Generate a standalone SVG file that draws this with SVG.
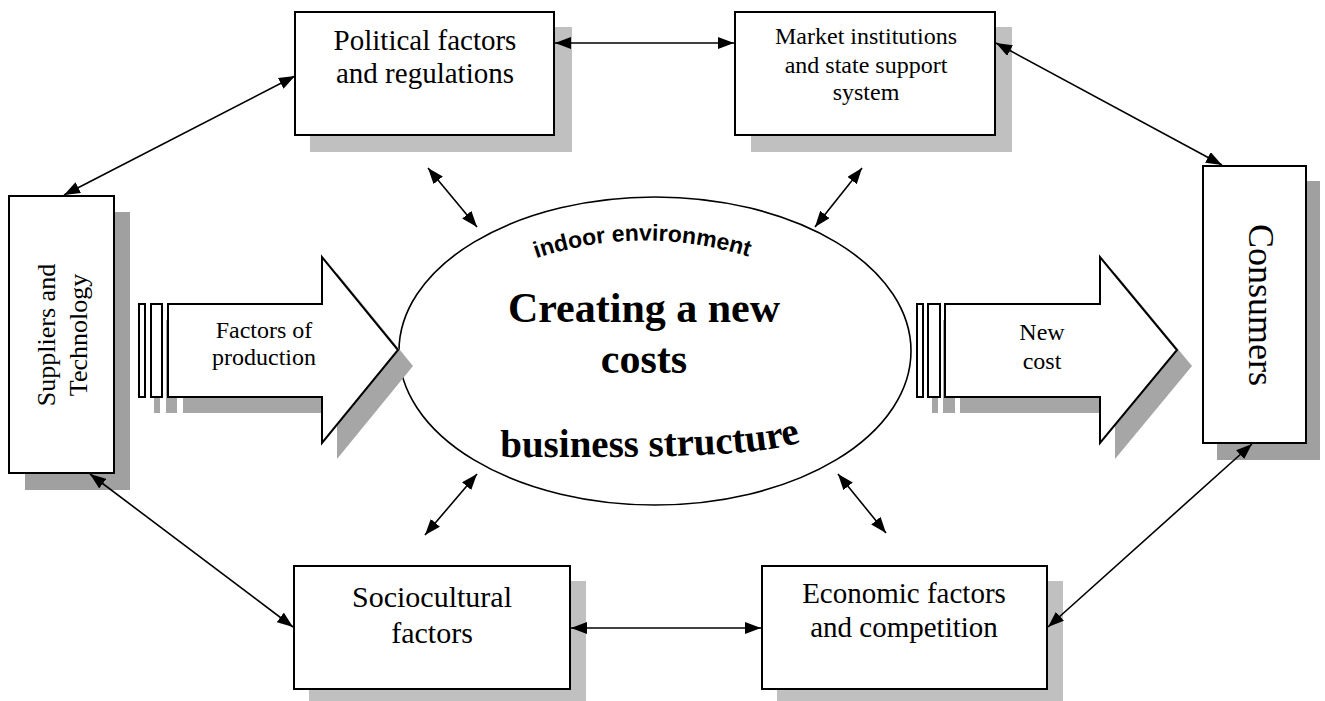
<svg xmlns="http://www.w3.org/2000/svg" width="1325" height="701" viewBox="0 0 1325 701">
<style>
.box{fill:#fff;stroke:#000;stroke-width:2}
.sh1{fill:#c0c0c0}
.sh2{fill:#a0a0a0}
.ash{fill:#a6a6a6}
.t{font-family:"Liberation Serif","Times New Roman",serif;fill:#000;text-anchor:middle}
.con{stroke:#000;stroke-width:1.6;fill:none;marker-start:url(#ah);marker-end:url(#ah)}
</style>
<defs>
<marker id="ah" viewBox="0 0 16 12" refX="16" refY="6" markerWidth="16" markerHeight="12" markerUnits="userSpaceOnUse" orient="auto-start-reverse">
<path d="M0,0 L16,6 L0,12 Z" fill="#000"/>
</marker>
<path id="arcTop" d="M526,262 Q640,220 759,260"/>
<path id="arcBot" d="M490,457 C640,457 770,459 810,438"/>
</defs>
<rect width="1325" height="701" fill="#fff"/>

<g id="center">
<ellipse cx="655" cy="351" rx="256" ry="154" fill="#fff" stroke="#000" stroke-width="1.6"/>
<text font-family="Arial, 'Liberation Sans', sans-serif" font-weight="bold" font-size="23" fill="#000" text-anchor="middle"><textPath href="#arcTop" startOffset="50%">indoor environment</textPath></text>
<text class="t" font-weight="bold" font-size="42" x="644" y="322">Creating a new</text>
<text class="t" font-weight="bold" font-size="42" x="644" y="373">costs</text>
<text font-family="'Liberation Serif', serif" font-weight="bold" font-size="39" fill="#000" text-anchor="middle"><textPath href="#arcBot" startOffset="50%">business structure</textPath></text>
</g>

<g id="factors-arrow">
<g class="ash" transform="translate(15,16)">
<rect x="139" y="304" width="6" height="93"/>
<rect x="151" y="304" width="11" height="93"/>
<path d="M168,304 L322,304 L322,257 L398,350 L322,443 L322,397 L168,397 Z"/>
</g>
<rect x="139" y="304" width="6" height="93" class="box" stroke-width="1.6"/>
<rect x="151" y="304" width="11" height="93" class="box" stroke-width="1.6"/>
<path d="M168,304 L322,304 L322,257 L398,350 L322,443 L322,397 L168,397 Z" class="box" stroke-width="1.6"/>
<text class="t" font-size="24" x="264" y="338">Factors of</text>
<text class="t" font-size="24" x="264" y="365">production</text>
</g>

<g id="newcost-arrow">
<g class="ash" transform="translate(15,16)">
<rect x="917" y="304" width="6" height="93"/>
<rect x="928" y="304" width="12" height="93"/>
<path d="M945,304 L1100,304 L1100,257 L1177,350 L1100,443 L1100,397 L945,397 Z"/>
</g>
<rect x="917" y="304" width="6" height="93" class="box" stroke-width="1.6"/>
<rect x="928" y="304" width="12" height="93" class="box" stroke-width="1.6"/>
<path d="M945,304 L1100,304 L1100,257 L1177,350 L1100,443 L1100,397 L945,397 Z" class="box" stroke-width="1.6"/>
<text class="t" font-size="24" x="1042" y="340">New</text>
<text class="t" font-size="24" x="1042" y="369">cost</text>
</g>

<g id="political">
<rect x="310" y="27" width="262" height="125" class="sh1"/>
<rect x="295" y="12" width="259" height="123" class="box"/>
<text class="t" font-size="29" x="425" y="50">Political factors</text>
<text class="t" font-size="29" x="425" y="83">and regulations</text>
</g>

<g id="market">
<rect x="751" y="27" width="261" height="125" class="sh1"/>
<rect x="735" y="12" width="260" height="123" class="box"/>
<text class="t" font-size="24" x="866" y="44">Market institutions</text>
<text class="t" font-size="24" x="866" y="73">and state support</text>
<text class="t" font-size="24" x="866" y="100">system</text>
</g>

<g id="suppliers">
<rect x="25" y="212" width="105" height="278" class="sh2"/>
<rect x="9" y="196" width="105" height="277" class="box"/>
<text class="t" font-size="26" transform="translate(0,335) rotate(-90)" x="0" y="55">Suppliers and</text>
<text class="t" font-size="26" transform="translate(0,335) rotate(-90)" x="0" y="87">Technology</text>
</g>

<g id="consumers">
<rect x="1217" y="181" width="103" height="279" class="sh2"/>
<rect x="1203" y="166" width="103" height="277" class="box"/>
<text class="t" font-size="36" transform="translate(1249,305) rotate(90)" x="0" y="0">Consumers</text>
</g>

<g id="sociocultural">
<rect x="309" y="581" width="277" height="122" class="sh1"/>
<rect x="294" y="566" width="276" height="123" class="box"/>
<text class="t" font-size="30" x="432" y="607">Sociocultural</text>
<text class="t" font-size="30" x="432" y="643">factors</text>
</g>

<g id="economic">
<rect x="777" y="581" width="286" height="122" class="sh1"/>
<rect x="762" y="566" width="285" height="123" class="box"/>
<text class="t" font-size="29" x="904" y="603">Economic factors</text>
<text class="t" font-size="29" x="904" y="637">and competition</text>
</g>

<g id="connectors">
<line class="con" x1="295" y1="76" x2="64" y2="195"/>
<line class="con" x1="555" y1="43" x2="734" y2="43"/>
<line class="con" x1="996" y1="43" x2="1222" y2="165"/>
<line class="con" x1="90" y1="474" x2="293" y2="627"/>
<line class="con" x1="571" y1="628" x2="761" y2="628"/>
<line class="con" x1="1048" y1="627" x2="1252" y2="444"/>
<line class="con" x1="428" y1="168" x2="477" y2="227"/>
<line class="con" x1="862" y1="168" x2="815" y2="227"/>
<line class="con" x1="425" y1="535" x2="477" y2="474"/>
<line class="con" x1="886" y1="533" x2="838" y2="474"/>
</g>
</svg>
